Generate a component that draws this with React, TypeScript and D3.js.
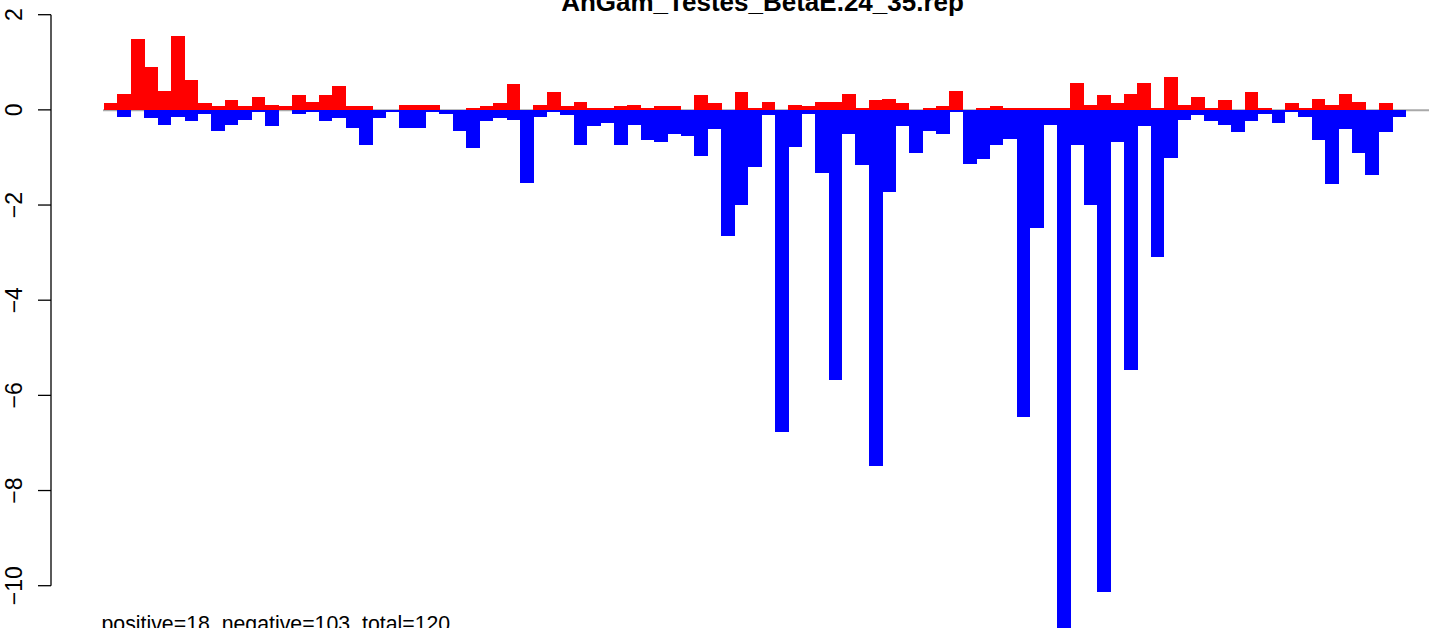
import React from "react";
import * as d3 from "d3";

const title = "AnGam_Testes_BetaE.24_35.rep";
const footer = "positive=18, negative=103, total=120";
const yTicks = [2, 0, -2, -4, -6, -8, -10];

const positiveValues = [
  0.14, 0.33, 1.48, 0.9, 0.39, 1.55, 0.62, 0.14, 0.08, 0.2,
  0.08, 0.27, 0.1, 0.08, 0.31, 0.16, 0.31, 0.5, 0.08, 0.08,
  0, 0, 0.1, 0.1, 0.1, 0, 0, 0.035, 0.08, 0.14,
  0.54, 0, 0.1, 0.37, 0.08, 0.16, 0.035, 0.035, 0.08, 0.1,
  0.035, 0.08, 0.08, 0, 0.31, 0.14, 0, 0.37, 0.035, 0.16,
  0, 0.1, 0.08, 0.16, 0.16, 0.33, 0.035, 0.2, 0.22, 0.14,
  0, 0.035, 0.08, 0.39, 0, 0.035, 0.08, 0.035, 0.035, 0.035,
  0.035, 0.035, 0.56, 0.1, 0.31, 0.14, 0.33, 0.56, 0.035, 0.69,
  0.1, 0.27, 0.035, 0.2, 0, 0.37, 0.035, 0, 0.14, 0.035,
  0.22, 0.1, 0.33, 0.16, 0, 0.14, 0,
];

const negativeValues = [
  0, -0.15, 0, -0.18, -0.32, -0.15, -0.24, -0.09, -0.45, -0.32,
  -0.22, -0.05, -0.34, 0, -0.09, -0.05, -0.24, -0.18, -0.39, -0.74,
  -0.18, -0.05, -0.39, -0.39, -0.05, -0.09, -0.45, -0.8, -0.24, -0.18,
  -0.22, -1.54, -0.15, -0.05, -0.11, -0.74, -0.34, -0.28, -0.74, -0.32,
  -0.64, -0.68, -0.51, -0.55, -0.97, -0.41, -2.65, -2.0, -1.2, -0.11,
  -6.77, -0.78, -0.09, -1.32, -5.68, -0.51, -1.16, -7.49, -1.73, -0.34,
  -0.91, -0.45, -0.51, -0.05, -1.14, -1.04, -0.74, -0.62, -6.46, -2.49,
  -0.32, -10.9, -0.74, -2.0, -10.13, -0.68, -5.47, -0.34, -3.1, -1.02,
  -0.22, -0.11, -0.24, -0.32, -0.47, -0.24, -0.09, -0.28, -0.05, -0.15,
  -0.64, -1.56, -0.41, -0.91, -1.37, -0.47, -0.15,
];

const W = 1429;
const H = 628;
const FONT = "'Liberation Sans', Arial, Helvetica, sans-serif";

export default function App() {
  const n = positiveValues.length;
  const x = d3.scaleLinear().domain([0, n]).range([104, 1405.7]);
  const y = d3.scaleLinear().domain([2, -10]).range([14.7, 585.7]);
  const bw = x(1) - x(0);
  const y0 = y(0);
  const axisX = 51;

  return (
    <svg
      width={W}
      height={H}
      style={{ position: "absolute", left: 0, top: 0, background: "#fff" }}
      fontFamily={FONT}
    >
      <rect x={0} y={0} width={W} height={H} fill="#fff" />
      <line x1={x(0) - 1} x2={W} y1={y0 + 0.4} y2={y0 + 0.4} stroke="#a9a9a9" strokeWidth={1.8} />
      {positiveValues.map((v, i) =>
        v > 0 ? (
          <rect
            key={"p" + i}
            x={x(i)}
            y={y(v)}
            width={bw + 0.3}
            height={y0 - y(v)}
            fill="#ff0000"
            shapeRendering="crispEdges"
          />
        ) : null
      )}
      {negativeValues.map((v, i) =>
        v < 0 ? (
          <rect
            key={"n" + i}
            x={x(i)}
            y={y0}
            width={bw + 0.3}
            height={y(v) - y0}
            fill="#0000ff"
            shapeRendering="crispEdges"
          />
        ) : null
      )}
      <line x1={axisX} x2={axisX} y1={y(2)} y2={y(-10)} stroke="#000" strokeWidth={1.3} />
      {yTicks.map((t) => (
        <g key={t}>
          <line x1={38} x2={axisX} y1={y(t)} y2={y(t)} stroke="#000" strokeWidth={1.3} />
          <text
            transform={`translate(21.7,${y(t)}) rotate(-90)`}
            textAnchor="middle"
            fontSize={23}
            fill="#000"
          >
            {t < 0 ? "\u2212" + Math.abs(t) : String(t)}
          </text>
        </g>
      ))}
      <text x={762.5} y={11} textAnchor="middle" fontSize={26} fontWeight="bold" fill="#000">
        {title}
      </text>
      <text x={101.5} y={631} fontSize={21.3} fill="#000">
        {footer}
      </text>
    </svg>
  );
}
